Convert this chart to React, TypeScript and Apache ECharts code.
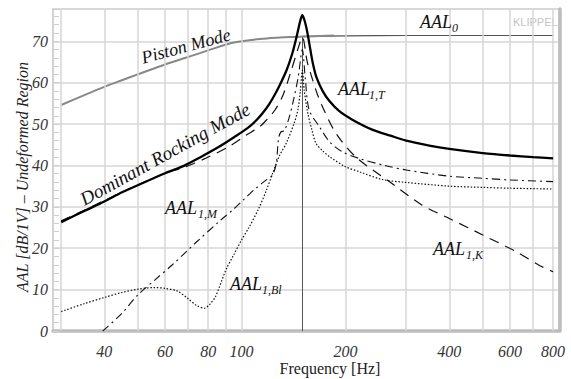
import React, { useEffect, useRef } from "react";
import * as echarts from "echarts";

// Frequencies (Hz) and levels (dB)
const pistonF = [30, 35, 40, 45, 50, 60, 70, 80, 95, 118, 147, 185];
const pistonV = [54.6, 57.0, 59.0, 60.6, 62.0, 64.4, 66.2, 67.8, 69.7, 70.7, 71.1, 71.4];

const aal0F = [150, 200, 300, 400, 600, 800];
const aal0V = [71.2, 71.3, 71.4, 71.4, 71.4, 71.4];

const totalF = [30, 35, 40, 44, 50, 60, 68, 76, 86, 95, 104, 110, 115, 120, 125, 130, 135, 140, 143, 146, 148, 150, 152, 154, 156, 158, 161, 165, 172, 180, 192, 210, 240, 270, 300, 350, 400, 500, 600, 700, 800];
const totalV = [26.3, 29.0, 31.3, 33.1, 35.2, 38.1, 39.9, 42.0, 44.5, 46.8, 49.0, 50.8, 52.6, 54.7, 57.2, 60.0, 63.0, 66.8, 69.7, 72.9, 75.0, 76.3, 75.2, 73.4, 71.0, 68.3, 64.6, 61.2, 57.9, 55.5, 53.1, 51.0, 48.6, 47.2, 46.0, 44.8, 44.0, 43.0, 42.4, 42.0, 41.7];

const stiffF = [30, 40, 50, 60, 69, 79, 92, 103, 113, 119, 125, 132, 139, 146, 150, 155, 159, 166, 174, 188, 214, 268, 334, 400, 500, 624, 728, 800];
const stiffV = [26.6, 31.5, 35.3, 38.1, 39.7, 41.8, 44.6, 47.3, 49.4, 51.3, 53.4, 57.1, 62.7, 68.4, 71.0, 65.0, 61.9, 57.1, 53.1, 47.7, 42.1, 36.1, 30.4, 27.2, 23.2, 19.2, 15.9, 14.3];

const massF = [39.6, 45, 50, 56, 63, 70, 74, 87, 95, 101, 110, 118, 123, 126, 128, 130, 133, 137.6, 142, 146, 150, 153, 157, 168, 180, 196, 219, 260, 300, 400, 500, 600, 800];
const massV = [0, 4.3, 8.7, 12.3, 16.0, 19.6, 21.5, 26.8, 29.5, 31.6, 34.5, 36.5, 37.7, 40.5, 46.5, 48.1, 48.4, 51.8, 56.5, 61.5, 68.0, 61.0, 53.4, 49.4, 45.7, 43.3, 41.7, 40.0, 38.9, 37.4, 36.9, 36.5, 36.1];

const blF = [30, 35, 40, 45, 50, 56, 60, 65, 70, 74, 78, 81, 84, 90, 95, 100, 105, 112, 118, 123, 129, 134.6, 142, 145.6, 148, 150, 152, 155.6, 160, 164.4, 172, 180, 200, 219, 256, 300, 400, 500, 600, 800];
const blV = [4.7, 6.6, 8.1, 9.3, 10.1, 10.5, 10.3, 9.7, 7.8, 6.2, 5.5, 6.5, 8.3, 14.7, 18.5, 22.0, 25.0, 29.5, 34.0, 38.1, 42.5, 45.3, 50.2, 53.4, 58.0, 63.0, 58.0, 52.6, 48.5, 45.3, 43.5, 42.1, 39.7, 38.5, 36.6, 35.9, 35.0, 34.7, 34.5, 34.3];

const gridFreqs = [30, 40, 50, 60, 70, 80, 90, 100, 200, 300, 400, 500, 600, 700, 800];
const xTickLabels = [40, 60, 80, 100, 200, 400, 600, 800];
const resonanceF = 150;
const resonanceTop = 71;

const SERIF = "Liberation Serif";

const pairs = (f: number[], v: number[]) => f.map((x, i) => [x, v[i]]);

export default function App() {
  const ref = useRef<HTMLDivElement>(null);

  useEffect(() => {
    if (!ref.current) return;
    const chart = echarts.init(ref.current, null, { renderer: "svg" });

    const lineSeries = (name: string, f: number[], v: number[], style: any, z = 3) => ({
      name,
      type: "line",
      data: pairs(f, v),
      showSymbol: false,
      symbol: "none",
      smooth: 0.3,
      silent: true,
      z,
      lineStyle: style,
    });

    const txt = (text: string, x: number, y: number, size: number, extra: any = {}, styleExtra: any = {}) => ({
      type: "text",
      x,
      y,
      silent: true,
      z: 20,
      ...extra,
      style: {
        text,
        fontFamily: SERIF,
        fontStyle: "italic",
        fontSize: size,
        fill: "#111",
        align: "left",
        verticalAlign: "middle",
        ...styleExtra,
      },
    });

    const ann = (main: string, sub: string, x: number, y: number, subDx: number) => [
      txt(main, x, y, 18),
      txt(sub, x + subDx, y + 6, 12),
    ];

    const option: any = {
      animation: false,
      backgroundColor: "#ffffff",
      grid: {
        left: 53,
        right: 12,
        top: 9,
        bottom: 48,
        show: true,
        borderColor: "#d2d2d2",
        borderWidth: 1.5,
        backgroundColor: "transparent",
      },
      xAxis: {
        type: "log",
        logBase: 10,
        min: 28.4,
        max: 832,
        axisLine: { show: true, onZero: false, lineStyle: { color: "#bdbdbd", width: 3.5 } },
        axisTick: { show: false },
        splitLine: { show: false },
        minorSplitLine: { show: false },
        axisLabel: {
          customValues: xTickLabels,
          formatter: (v: number) => String(Math.round(v)),
          fontFamily: SERIF,
          fontStyle: "italic",
          fontSize: 16,
          color: "#333",
          margin: 12,
        },
      },
      yAxis: [
        {
          type: "value",
          min: 0,
          max: 77.8,
          interval: 10,
          axisLine: { show: true, lineStyle: { color: "#cfcfcf", width: 1.5 } },
          axisTick: { show: true, inside: true, length: 6, lineStyle: { color: "#cfcfcf" } },
          minorTick: { show: true, splitNumber: 5, length: 6, lineStyle: { color: "#cfcfcf" } },
          splitLine: { show: true, lineStyle: { color: "#d6d6d6", width: 1.5 } },
          axisLabel: {
            showMaxLabel: false,
            fontFamily: SERIF,
            fontStyle: "italic",
            fontSize: 16,
            color: "#333",
            margin: 5,
          },
        },
        {
          type: "value",
          position: "right",
          min: 0,
          max: 77.8,
          offset: 1,
          axisLine: { show: true, lineStyle: { color: "#bdbdbd", width: 3.5 } },
          axisTick: { show: false },
          axisLabel: { show: false },
          splitLine: { show: false },
        },
      ],
      series: [
        {
          name: "grid",
          type: "line",
          data: [],
          silent: true,
          z: 1,
          markLine: {
            silent: true,
            symbol: "none",
            animation: false,
            label: { show: false },
            lineStyle: { color: "#d6d6d6", width: 1.5, type: "solid" },
            data: gridFreqs.map((f) => ({ xAxis: f })),
          },
        },
        {
          name: "resonance",
          type: "line",
          data: [],
          silent: true,
          z: 2,
          markLine: {
            silent: true,
            symbol: "none",
            animation: false,
            label: { show: false },
            lineStyle: { color: "#555", width: 1, type: "solid" },
            data: [[{ coord: [resonanceF, 0] }, { coord: [resonanceF, resonanceTop] }]],
          },
        },
        lineSeries("AAL0", aal0F, aal0V, { color: "#555", width: 1.2, type: "solid" }, 3),
        lineSeries("Piston", pistonF, pistonV, { color: "#888", width: 2, type: "solid" }, 4),
        lineSeries("AAL1,Bl", blF, blV, { color: "#111", width: 1.2, type: [1.5, 1.8] }, 5),
        lineSeries("AAL1,M", massF, massV, { color: "#111", width: 1.1, type: [8, 4, 2, 4] }, 5),
        lineSeries("AAL1,K", stiffF, stiffV, { color: "#111", width: 1.2, type: [10, 7] }, 5),
        lineSeries("AAL1,T", totalF, totalV, { color: "#000", width: 2.3, type: "solid" }, 6),
      ],
      graphic: [
        txt("AAL [dB/1V] – Undeformed Region", 22, 177, 16, { rotation: Math.PI / 2 }, { align: "center", fill: "#222" }),
        txt("Frequency [Hz]", 330, 368, 16, {}, { align: "center", fontStyle: "normal", fill: "#222" }),
        {
          type: "text",
          x: 513,
          y: 22,
          silent: true,
          style: {
            text: "KLIPPEL",
            fontFamily: "Liberation Sans",
            fontSize: 11,
            fill: "#c4c4c4",
            align: "left",
            verticalAlign: "middle",
          },
        },
        txt("Piston Mode", 186, 46, 18, { rotation: (15 * Math.PI) / 180 }, { align: "center" }),
        txt("Dominant Rocking Mode", 165, 154, 19, { rotation: (29 * Math.PI) / 180 }, { align: "center" }),
        ...ann("AAL", "0", 420, 21.5, 32),
        ...ann("AAL", "1,T", 338, 88.5, 31),
        ...ann("AAL", "1,M", 165, 208, 33),
        ...ann("AAL", "1,Bl", 230, 284, 32),
        ...ann("AAL", "1,K", 433, 249, 33),
      ],
    };

    chart.setOption(option);
    return () => chart.dispose();
  }, []);

  return (
    <div
      ref={ref}
      style={{ position: "fixed", left: 0, top: 0, width: 571, height: 379, background: "#fff" }}
    />
  );
}
